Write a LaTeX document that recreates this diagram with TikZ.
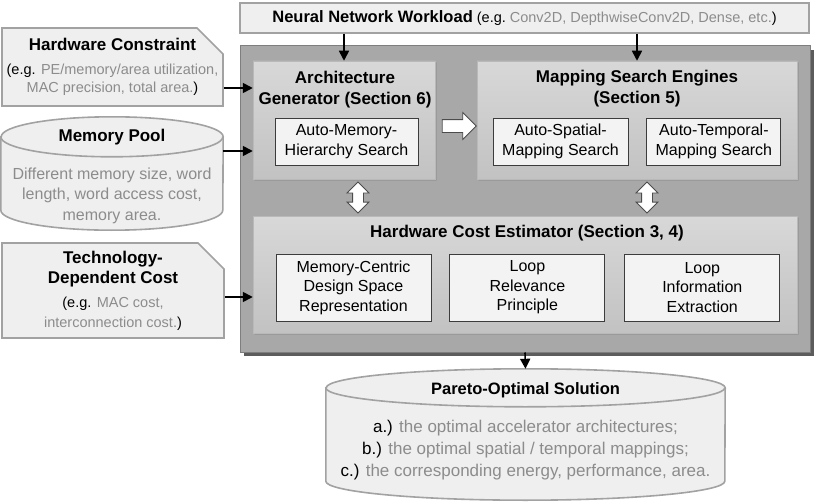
\documentclass[tikz,border=0pt]{standalone}
\usepackage{fontspec}
\setmainfont{Liberation Sans}
\usetikzlibrary{positioning,shapes.misc,shapes.arrows,arrows.meta,shadows}

\definecolor{txtgray}{HTML}{8C8C8C}
\definecolor{boxfill}{HTML}{EFEFEF}
\definecolor{boxline}{HTML}{A2A2A2}
\definecolor{panelfill}{HTML}{A8A8A8}
\definecolor{panelline}{HTML}{7E7E7E}
\definecolor{subtop}{HTML}{D8D8D8}
\definecolor{subbot}{HTML}{C2C2C2}
\definecolor{cardfill}{HTML}{F3F3F3}
\definecolor{cardline}{HTML}{3C3C3C}

\newcommand\ttl{\fontsize{17}{21}\selectfont\bfseries}
\newcommand\gt[1]{\textcolor{txtgray}{#1}}

\begin{document}
\begin{tikzpicture}[x=1pt, y=-1pt,
    inbox/.style = {draw=boxline, fill=boxfill, line width=1.6pt, inner sep=0pt, align=center},
    corner/.style = {chamfered rectangle, chamfered rectangle corners=north east, chamfered rectangle sep=13pt, inner sep=-13pt},
    panel/.style = {chamfered rectangle, chamfered rectangle corners={north east,south west}, chamfered rectangle sep=16pt,
      top color=subtop, bottom color=subbot, draw=gray!55, line width=0.5pt, inner sep=0pt,
      drop shadow={shadow xshift=1.5pt, shadow yshift=-1.5pt, fill=black!50, opacity=0.5}},
    card/.style = {draw=cardline, fill=cardfill, line width=0.9pt, inner sep=0pt, align=center, font=\fontsize{16}{19.5}\selectfont},
    cyl/.style = {draw=boxline, fill=boxfill, line width=1.6pt},
    arr/.style = {line width=1.6pt, -{Triangle[length=10pt,width=10pt]}},
    hollow/.style = {draw=black!70, fill=white, line width=0.8pt, inner xsep=0pt}]
  \useasboundingbox (0,0) rectangle (820,503);
  %
  \node[inbox, minimum width=569pt, minimum height=30pt, font=\fontsize{14.5}{18}\selectfont] (load) at (524.5,18)
    {{\fontsize{16.5}{20}\selectfont\bfseries Neural Network Workload} (e.g.\ \gt{Conv2D, DepthwiseConv2D, Dense, etc.})};
  \node[inbox, corner, minimum width=221pt, minimum height=78pt, font=\fontsize{14.5}{18}\selectfont] (hwc) at (112.5,67)
    {{\ttl Hardware Constraint}\\[6pt](e.g. \gt{PE/memory/area utilization,}\\\gt{MAC precision, total area.})};
  \node[inbox, corner, minimum width=222pt, minimum height=95pt, font=\fontsize{14.5}{20}\selectfont] (tech) at (113,290.5)
    {{\ttl Technology-}\\{\ttl Dependent Cost}\\[4pt](e.g. \gt{MAC cost,}\\\gt{interconnection cost.})};
  %
  \node[minimum width=222pt, minimum height=113pt] (pool) at (112,173.5) {};
  \path[cyl] ([yshift=-20pt]pool.north west) -- ([yshift=20pt]pool.south west)
    arc[start angle=180, end angle=360, x radius=111pt, y radius=20pt] -- ([yshift=-20pt]pool.north east)
    arc[start angle=0, end angle=180, x radius=111pt, y radius=20pt] -- cycle;
  \draw[cyl, fill=none] ([yshift=-20pt]pool.north west) arc[start angle=180, end angle=360, x radius=111pt, y radius=20pt];
  \node[font=\ttl] (poolT) at (112,137) {Memory Pool};
  \node[align=center, text=txtgray, font=\fontsize{16}{20.5}\selectfont] (poolB) at (112,195.5)
    {Different memory size, word\\length, word access cost,\\memory area.};
  %
  \node[draw=panelline, fill=panelfill, line width=1pt, minimum width=570pt, minimum height=306pt,
    drop shadow={shadow xshift=4pt, shadow yshift=-4pt, fill=black!80, opacity=0.8}] (main) at (525,199) {};
  \node[panel, minimum width=182pt, minimum height=118pt] (arch) at (344,120) {};
  \node[panel, minimum width=320pt, minimum height=118pt] (map) at (637,120) {};
  \node[panel, minimum width=544pt, minimum height=117pt] (cost) at (525,274.5) {};
  \node[align=center, font=\ttl] (archT) at (345,89.5) {Architecture\\Generator (Section 6)};
  \node[align=center, font=\ttl] (mapT) at (637,89) {Mapping Search Engines\\(Section 5)};
  \node[font=\ttl] (costT) at (527,233) {Hardware Cost Estimator (Section 3, 4)};
  %
  \node[card, minimum width=143pt, minimum height=47pt] (amh) at (346.5,141.5) {Auto-Memory-\\Hierarchy Search};
  \node[card, minimum width=135pt, minimum height=47pt] (asm) at (560.5,141.5) {Auto-Spatial-\\Mapping Search};
  \node[card, minimum width=134pt, minimum height=47pt] (atm) [right=18pt of asm] {Auto-Temporal-\\Mapping Search};
  \node[card, minimum width=155pt, minimum height=67pt] (mcd) at (353.5,287.5) {Memory-Centric\\Design Space\\Representation};
  \node[card, minimum width=155pt, minimum height=67pt] (lrp) [right=18pt of mcd] {Loop\\Relevance\\Principle};
  \node[card, minimum width=155pt, minimum height=67pt] (lie) [right=19pt of lrp] {Loop\\Information\\Extraction};
  %
  \node[hollow, single arrow, inner ysep=6pt, minimum height=34pt, single arrow head extend=7pt] (sa) at (456,126) {};
  \node[hollow, double arrow, rotate=90, inner ysep=5pt, minimum height=31pt, double arrow head extend=5.5pt] (da1) at (358,197.5) {};
  \node[hollow, double arrow, rotate=90, inner ysep=5pt, minimum height=31pt, double arrow head extend=5.5pt] (da2) at (647,197.5) {};
  %
  \node[minimum width=399pt, minimum height=131pt] (pareto) at (525.5,434.5) {};
  \path[cyl] ([yshift=-19pt]pareto.north west) -- ([yshift=19pt]pareto.south west)
    arc[start angle=180, end angle=360, x radius=199.5pt, y radius=19pt] -- ([yshift=-19pt]pareto.north east)
    arc[start angle=0, end angle=180, x radius=199.5pt, y radius=19pt] -- cycle;
  \draw[cyl, fill=none] ([yshift=-19pt]pareto.north west) arc[start angle=180, end angle=360, x radius=199.5pt, y radius=19pt];
  \node[font=\fontsize{16.5}{20}\selectfont\bfseries] (paretoT) at (525.5,390) {Pareto-Optimal Solution};
  \node[align=center, font=\fontsize{17}{22}\selectfont] (paretoB) at (525.5,450)
    {a.) \gt{the optimal accelerator architectures;}\\b.) \gt{the optimal spatial / temporal mappings;}\\c.) \gt{the corresponding energy, performance, area.}};
  %
  \draw[arr] (load.south -| arch.north) -- (arch.north);
  \draw[arr] (load.south -| map.north) -- (map.north);
  \draw[arr] ([yshift=-21pt]hwc.east) -- ([yshift=-21pt]hwc.east -| arch.west);
  \draw[arr] ([yshift=22.5pt]pool.east) -- ([yshift=22.5pt]pool.east -| arch.west);
  \draw[arr] ([yshift=-6.5pt]tech.east) -- ([yshift=-6.5pt]tech.east -| cost.west);
  \draw[arr] (main.south) -- (pareto.north);
\end{tikzpicture}
\end{document}
